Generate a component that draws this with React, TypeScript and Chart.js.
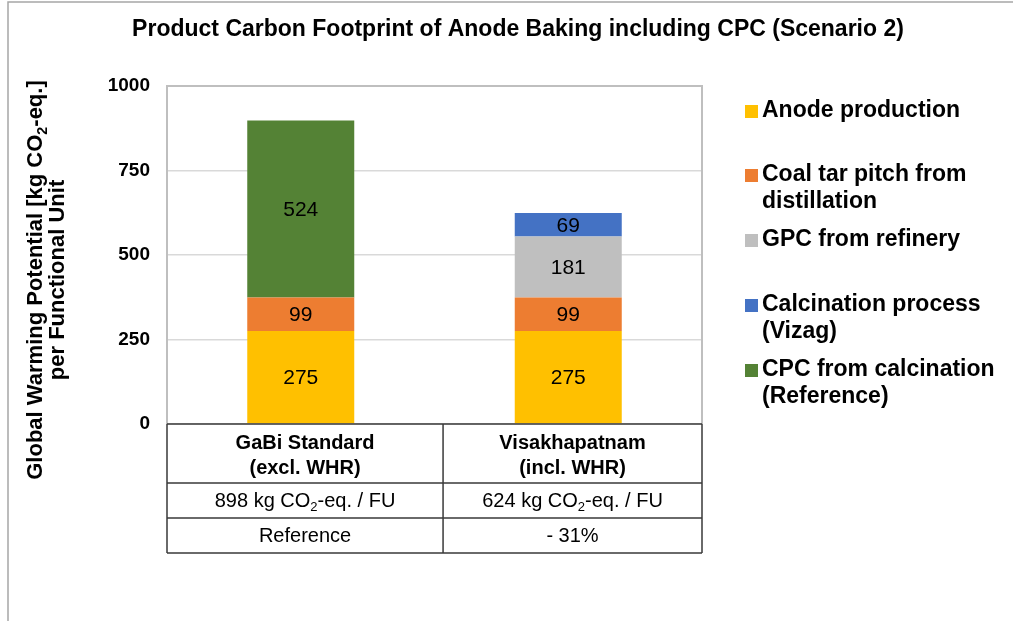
import React, { useEffect, useRef } from 'react';
import { Chart, registerables } from 'chart.js';

Chart.register(...registerables);

// ---------- data ----------
const categories = ['GaBi Standard', 'Visakhapatnam'];
const categorySubtitles = ['(excl. WHR)', '(incl. WHR)'];
const totals = [898, 624];
const comparison = ['Reference', '- 31%'];

const seriesNames = [
  'Anode production',
  'Coal tar pitch from distillation',
  'GPC from refinery',
  'Calcination process (Vizag)',
  'CPC from calcination (Reference)',
];
const legendLines = [
  ['Anode production'],
  ['Coal tar pitch from', 'distillation'],
  ['GPC from refinery'],
  ['Calcination process', '(Vizag)'],
  ['CPC from calcination', '(Reference)'],
];
const anodeProduction = [275, 275];
const coalTarPitch = [99, 99];
const gpcFromRefinery = [null, 181];
const calcinationVizag = [null, 69];
const cpcFromCalcination = [524, null];
const seriesColors = ['#FFC000', '#ED7D31', '#BFBFBF', '#4472C4', '#548235'];

const yMin = 0;
const yMax = 1000;
const yStep = 250;

const chartTitle = 'Product Carbon Footprint of Anode Baking including CPC (Scenario 2)';

const FF = 'Arial, "Liberation Sans", sans-serif';

type Part = { t: string; sub?: boolean };

function drawRich(ctx: CanvasRenderingContext2D, parts: Part[], x: number, y: number, size: number, weight: string, align: 'center' | 'left') {
  const font = (s: number) => `${weight} ${s}px ${FF}`;
  let w = 0;
  for (const p of parts) {
    ctx.font = font(p.sub ? size * 0.65 : size);
    w += ctx.measureText(p.t).width;
  }
  let cx = align === 'center' ? x - w / 2 : x;
  ctx.textAlign = 'left';
  ctx.textBaseline = 'middle';
  for (const p of parts) {
    const s = p.sub ? size * 0.65 : size;
    ctx.font = font(s);
    ctx.fillText(p.t, cx, p.sub ? y + size * 0.3 : y);
    cx += ctx.measureText(p.t).width;
  }
}

const overlayPlugin = {
  id: 'overlay',
  beforeDraw(chart: any) {
    const ctx: CanvasRenderingContext2D = chart.ctx;
    ctx.save();
    ctx.fillStyle = '#ffffff';
    ctx.fillRect(0, 0, chart.width, chart.height);
    ctx.restore();
  },
  afterDatasetsDraw(chart: any) {
    const ctx: CanvasRenderingContext2D = chart.ctx;
    ctx.save();
    ctx.fillStyle = '#000000';
    ctx.font = `21px ${FF}`;
    ctx.textAlign = 'center';
    ctx.textBaseline = 'middle';
    chart.data.datasets.forEach((ds: any, di: number) => {
      const meta = chart.getDatasetMeta(di);
      meta.data.forEach((bar: any, i: number) => {
        const v = ds.data[i];
        if (v == null) return;
        ctx.fillText(String(v), bar.x, (bar.y + bar.base) / 2 + 1);
      });
    });
    ctx.restore();
  },
  afterDraw(chart: any) {
    const ctx: CanvasRenderingContext2D = chart.ctx;
    const a = chart.chartArea;
    ctx.save();

    // outer frame
    ctx.strokeStyle = '#A6A6A6';
    ctx.lineWidth = 1.5;
    ctx.beginPath();
    ctx.moveTo(8, chart.height);
    ctx.lineTo(8, 2);
    ctx.lineTo(chart.width, 2);
    ctx.stroke();

    // plot border
    ctx.strokeStyle = '#BFBFBF';
    ctx.lineWidth = 2;
    ctx.beginPath();
    ctx.moveTo(a.left, a.bottom);
    ctx.lineTo(a.left, a.top);
    ctx.lineTo(a.right, a.top);
    ctx.lineTo(a.right, a.bottom);
    ctx.stroke();

    // title
    ctx.fillStyle = '#000000';
    ctx.font = `bold 23px ${FF}`;
    ctx.textAlign = 'center';
    ctx.textBaseline = 'middle';
    ctx.fillText(chartTitle, 518, 30);

    // y-axis title (rotated)
    ctx.save();
    ctx.translate(36, 280);
    ctx.rotate(-Math.PI / 2);
    drawRich(ctx, [{ t: 'Global Warming Potential [kg CO' }, { t: '2', sub: true }, { t: '-eq.]' }], 0, 0, 22, 'bold', 'center');
    drawRich(ctx, [{ t: 'per Functional Unit' }], 0, 22, 22, 'bold', 'center');
    ctx.restore();

    // legend
    const legendX = 745;
    const itemTops = [111, 175, 240, 305, 370];
    legendLines.forEach((lines, i) => {
      const y0 = itemTops[i];
      ctx.fillStyle = seriesColors[i];
      ctx.fillRect(legendX, y0 - 6, 13, 13);
      ctx.fillStyle = '#000000';
      ctx.font = `bold 23px ${FF}`;
      ctx.textAlign = 'left';
      ctx.textBaseline = 'middle';
      lines.forEach((ln, j) => ctx.fillText(ln, legendX + 17, y0 + j * 26.5));
    });

    // data table
    const tTop = a.bottom;
    const r1 = tTop + 59;
    const r2 = r1 + 35;
    const r3 = r2 + 35;
    const sep = a.left + (a.right - a.left) * 0.516;
    ctx.strokeStyle = '#3A3A3A';
    ctx.lineWidth = 1.5;
    ctx.beginPath();
    ctx.moveTo(a.left, tTop); ctx.lineTo(a.right, tTop);
    ctx.moveTo(a.left, r1); ctx.lineTo(a.right, r1);
    ctx.moveTo(a.left, r2); ctx.lineTo(a.right, r2);
    ctx.moveTo(a.left, r3); ctx.lineTo(a.right, r3);
    ctx.moveTo(a.left, tTop); ctx.lineTo(a.left, r3);
    ctx.moveTo(a.right, tTop); ctx.lineTo(a.right, r3);
    ctx.moveTo(sep, tTop); ctx.lineTo(sep, r3);
    ctx.stroke();

    const colCenters = [(a.left + sep) / 2, (sep + a.right) / 2];
    ctx.fillStyle = '#000000';
    categories.forEach((cat, i) => {
      const cx = colCenters[i];
      ctx.font = `bold 20px ${FF}`;
      ctx.textAlign = 'center';
      ctx.textBaseline = 'middle';
      ctx.fillText(cat, cx, tTop + 19);
      ctx.fillText(categorySubtitles[i], cx, tTop + 44);
      drawRich(ctx, [{ t: `${totals[i]} kg CO` }, { t: '2', sub: true }, { t: '-eq. / FU' }], cx, (r1 + r2) / 2 + 1, 20, 'normal', 'center');
      ctx.font = `20px ${FF}`;
      ctx.textAlign = 'center';
      ctx.textBaseline = 'middle';
      ctx.fillText(comparison[i], cx, (r2 + r3) / 2 + 1);
    });

    ctx.restore();
  },
};

export default function App() {
  const ref = useRef<HTMLCanvasElement>(null);
  useEffect(() => {
    document.body.style.margin = '0';
    const series = [anodeProduction, coalTarPitch, gpcFromRefinery, calcinationVizag, cpcFromCalcination];
    const chart = new Chart(ref.current as HTMLCanvasElement, {
      type: 'bar',
      data: {
        labels: categories,
        datasets: series.map((d, i) => ({
          label: seriesNames[i],
          data: d as any,
          backgroundColor: seriesColors[i],
          borderWidth: 0,
          categoryPercentage: 1,
          barPercentage: 0.4,
        })),
      },
      options: {
        animation: false,
        responsive: false,
        devicePixelRatio: 1,
        layout: { padding: { left: 0, top: 86, right: 311, bottom: 197 } },
        plugins: { legend: { display: false }, title: { display: false }, tooltip: { enabled: false } },
        scales: {
          x: { stacked: true, display: false },
          y: {
            stacked: true,
            min: yMin,
            max: yMax,
            ticks: {
              stepSize: yStep,
              font: { family: FF, size: 19, weight: 'bold' },
              color: '#000000',
              padding: 17,
              callback: (v: any) => String(v),
            },
            grid: { color: '#D9D9D9', lineWidth: 1.5, drawTicks: false },
            border: { display: false },
            afterFit: (s: any) => { s.width = 167; },
          },
        },
      },
      plugins: [overlayPlugin],
    });
    return () => chart.destroy();
  }, []);
  return (
    <div style={{ width: 1013, height: 621 }}>
      <canvas ref={ref} width={1013} height={621} />
    </div>
  );
}
